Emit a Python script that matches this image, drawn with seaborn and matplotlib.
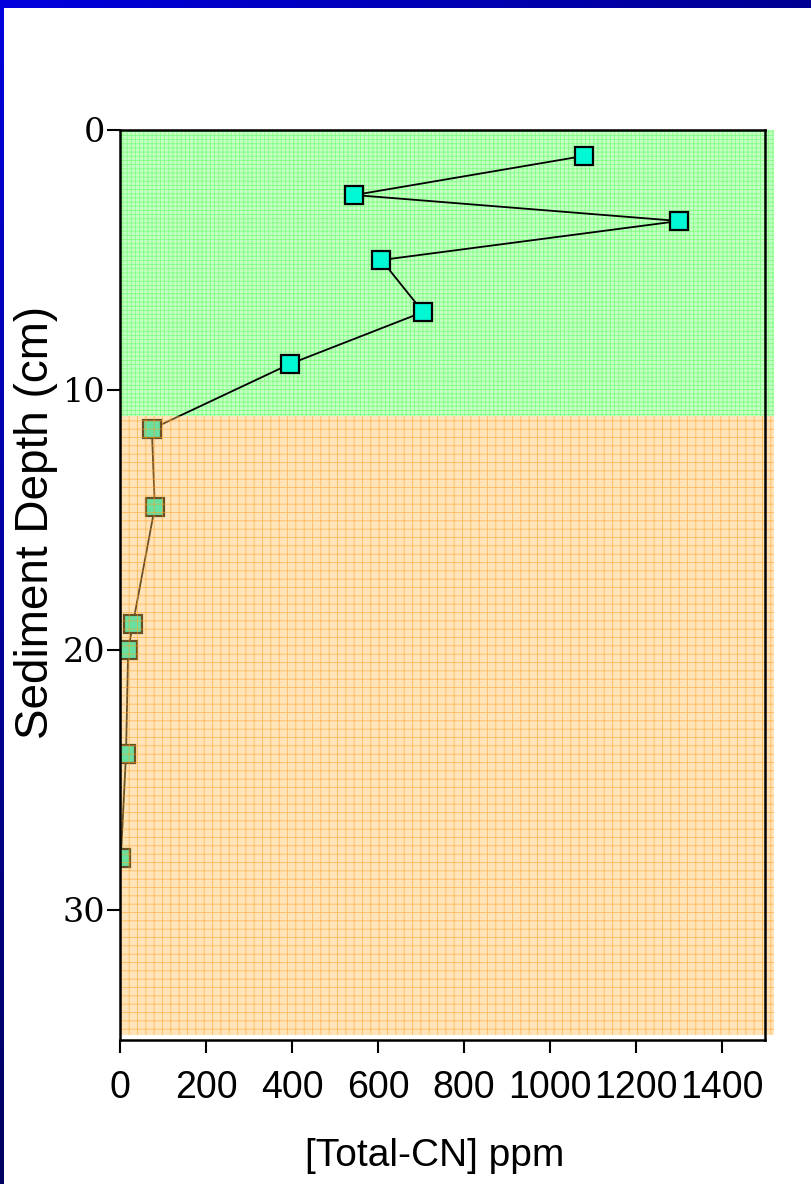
import matplotlib
matplotlib.use('Agg')
import matplotlib.pyplot as plt
from matplotlib.colors import LinearSegmentedColormap
import numpy as np
import pandas as pd
import seaborn as sns

# Total-CN profile
depth_cm = [1, 2.5, 3.5, 5, 7, 9, 11.5, 14.5, 19, 20, 24, 28]
total_cn = [1078, 545, 1300, 608, 705, 395, 74, 81, 30, 19, 14, 2]
upper_zone = (0, 11)
lower_zone = (11, 34.8)
x_ticks = [0, 200, 400, 600, 800, 1000, 1200, 1400]
y_ticks = [0, 10, 20, 30]

sns.set_style('white')
plt.rcParams['font.family'] = ['Liberation Sans', 'DejaVu Sans']
plt.rcParams['hatch.linewidth'] = 0.6
plt.rcParams['text.color'] = 'black'
plt.rcParams['axes.labelcolor'] = 'black'
plt.rcParams['xtick.color'] = 'black'
plt.rcParams['ytick.color'] = 'black'

fig = plt.figure(figsize=(8.12, 11.84), dpi=100)
ax = fig.add_axes([120 / 812, 1 - 1040 / 1184, 645 / 812, 910 / 1184])

df = pd.DataFrame({'depth': depth_cm, 'cn': total_cn})
sns.lineplot(data=df, x='cn', y='depth', sort=False, estimator=None, ax=ax,
             color='black', lw=1.3, marker='s', markersize=13,
             markerfacecolor='#00F8D4', markeredgecolor='black',
             markeredgewidth=1.6, zorder=3)

# shaded zones: green under the data, orange laid over it like the original
ax.fill_between([0, 1520], upper_zone[0], upper_zone[1], facecolor=(0.55, 1, 0.55, 0.5),
                edgecolor=(0.3, 1, 0.3, 0.55), hatch='++++', lw=0, zorder=2, clip_on=False)
ax.fill_between([0, 1520], lower_zone[0], lower_zone[1], facecolor=(1, 0.75, 0.35, 0.42),
                edgecolor=(1, 0.62, 0.1, 0.6), hatch='++', lw=0, zorder=4, clip_on=False)

ax.set_xlim(0, 1500)
ax.set_ylim(35, 0)
ax.set_xticks(x_ticks)
ax.set_yticks(y_ticks)
ax.tick_params(axis='both', direction='out', length=9.4, width=1.5, color='black',
               labelcolor='black', bottom=True, left=True, top=False, right=False)
ax.tick_params(axis='x', labelsize=27, pad=12)
ax.tick_params(axis='y', labelsize=24, pad=1)
for lab in ax.get_yticklabels():
    lab.set_family('DejaVu Serif')
for sp in ax.spines.values():
    sp.set_color('black')
    sp.set_linewidth(1.8)
    sp.set_zorder(5)

ax.set_xlabel('[Total-CN] ppm', fontsize=28, va='center', color='black')
ax.xaxis.set_label_coords(0.488, -0.128)
ax.set_ylabel('Sediment Depth (cm)', fontsize=33, va='center', color='black')
ax.yaxis.set_label_coords(-0.13, 0.569)

# blue slide frame
blues = LinearSegmentedColormap.from_list('frame', ['#0000DD', '#000060'])
top = fig.add_axes([0, 1 - 8 / 1184, 1, 8 / 1184])
top.imshow(np.linspace(0, 0.6, 200)[None, :], aspect='auto', cmap=blues, vmin=0, vmax=1)
top.axis('off')
left = fig.add_axes([0, 0, 4 / 812, 1])
left.imshow(np.linspace(0, 1, 200)[:, None], aspect='auto', cmap=blues, vmin=0, vmax=1)
left.axis('off')

fig.savefig('out.png', dpi=100)
